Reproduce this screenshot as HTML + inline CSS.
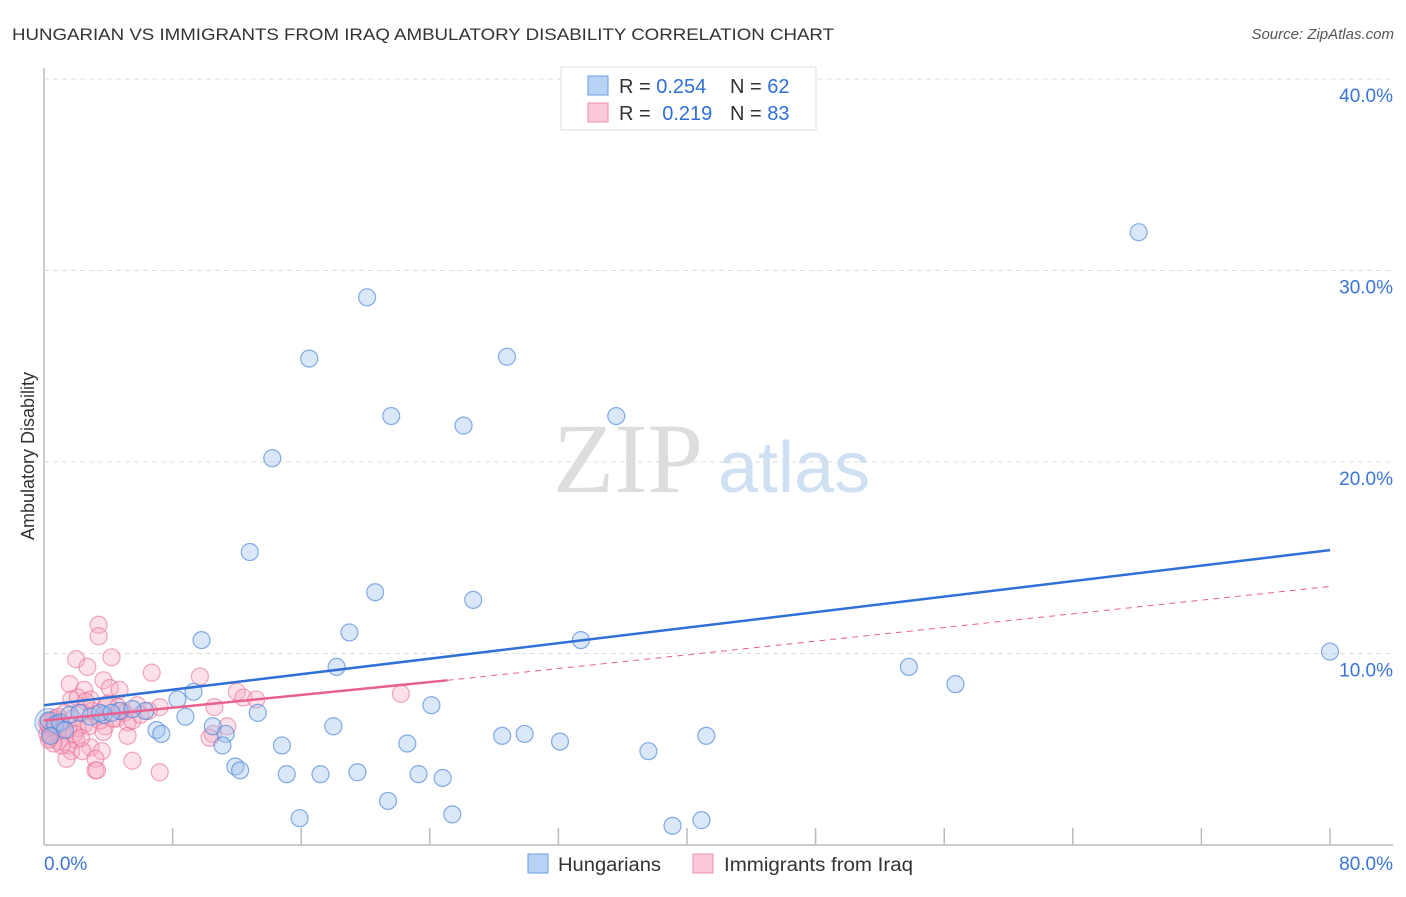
<!DOCTYPE html>
<html><head><meta charset="utf-8"><style>
body{margin:0;background:#fff;font-family:"Liberation Sans",sans-serif;}
</style></head><body>
<svg id="c" width="1406" height="892" xmlns="http://www.w3.org/2000/svg" font-family="Liberation Sans, sans-serif">
<text x="12" y="40" font-size="17" fill="#333" textLength="822" lengthAdjust="spacingAndGlyphs">HUNGARIAN VS IMMIGRANTS FROM IRAQ AMBULATORY DISABILITY CORRELATION CHART</text>
<text x="1394" y="39" font-size="15" fill="#555" font-style="italic" text-anchor="end">Source: ZipAtlas.com</text>
<text x="34" y="456" font-size="18" fill="#333" text-anchor="middle" transform="rotate(-90 34 456)">Ambulatory Disability</text>
<text x="553" y="492" font-size="100" fill="#ddd" style="font-family:'Liberation Serif',serif">ZIP</text>
<text x="718" y="492" font-size="72" fill="#cfe0f3">atlas</text>
<g id="grid"></g><g id="pts"></g><g id="lines"></g>
<g>
<rect x="561" y="67" width="255" height="63" fill="#fff" stroke="#ddd"/>
<rect x="588" y="76" width="20" height="19" fill="#b8d3f5" stroke="#6a9ee0"/>
<rect x="588" y="103" width="20" height="19" fill="#fbc9d8" stroke="#ec8fae"/>
<text x="619" y="93" font-size="20" fill="#333">R = <tspan fill="#2f6fd6">0.254</tspan></text>
<text x="730" y="93" font-size="20" fill="#333">N = <tspan fill="#2f6fd6">62</tspan></text>
<text x="619" y="120" font-size="20" fill="#333">R = <tspan fill="#2f6fd6" dx="6">0.219</tspan></text>
<text x="730" y="120" font-size="20" fill="#333">N = <tspan fill="#2f6fd6">83</tspan></text>
</g>
<g>
<rect x="528" y="854" width="20" height="19" fill="#b8d3f5" stroke="#6a9ee0"/>
<text x="558" y="871" font-size="19" fill="#333" textLength="103" lengthAdjust="spacingAndGlyphs">Hungarians</text>
<rect x="693" y="854" width="20" height="19" fill="#fbc9d8" stroke="#ec8fae"/>
<text x="724" y="871" font-size="19" fill="#333" textLength="189" lengthAdjust="spacingAndGlyphs">Immigrants from Iraq</text>
</g>
</svg>
<script>
const yTicks=[10,20,30,40];
const xLabels=["0.0%","80.0%"];
const blueX=[68.1,20.1,16.5,28.8,21.6,35.6,26.1,14.2,12.8,20.6,26.7,19.0,9.8,33.4,80.0,53.8,56.7,18.2,9.3,8.3,8.8,7.0,7.3,6.3,4.7,5.5,3.7,13.3,24.1,18.0,10.5,11.3,11.1,14.8,22.6,28.5,29.9,32.1,37.6,41.2,11.9,12.2,15.1,17.2,19.5,23.3,24.8,21.4,15.9,25.4,39.1,40.9,0.3,0.7,1.0,1.6,2.2,2.9,1.3,3.5,4.2,0.4];
const blueY=[32.0,28.6,25.4,25.5,22.4,22.4,21.9,20.2,15.3,13.2,12.8,11.1,10.7,10.7,10.1,9.3,8.4,9.3,8.0,7.6,6.7,6.0,5.8,7.0,7.0,7.1,6.8,6.9,7.3,6.2,6.2,5.8,5.2,5.2,5.3,5.7,5.8,5.4,4.9,5.7,4.1,3.9,3.7,3.7,3.8,3.7,3.5,2.3,1.4,1.6,1.0,1.3,6.5,6.3,6.4,6.8,6.9,6.7,6.0,6.9,6.9,5.7];
const pinkX=[3.4,3.4,2.0,4.2,2.7,6.7,9.7,1.6,3.7,2.5,4.1,4.7,12.0,22.2,12.4,13.2,1.7,2.9,2.1,5.8,7.2,10.6,4.0,1.3,3.2,4.5,5.0,0.7,1.1,2.5,3.8,5.2,11.4,10.5,10.3,5.2,0.4,0.9,1.5,2.0,2.9,0.5,0.2,1.7,2.4,3.6,1.4,3.2,5.5,3.2,7.2,3.3,0.3,0.6,0.8,1.0,0.5,0.9,1.2,0.2,0.4,0.7,1.5,1.8,2.1,2.4,2.8,3.0,3.5,4.3,5.5,6.0,6.5,4.8,3.9,2.6,1.9,1.1,0.6,0.3,2.3,3.7,4.6];
const pinkY=[11.5,10.9,9.7,9.8,9.3,9.0,8.8,8.4,8.6,8.1,8.2,8.1,8.0,7.9,7.7,7.6,7.6,7.6,7.7,7.3,7.2,7.2,7.4,6.9,6.8,6.6,6.9,6.6,6.4,6.3,6.2,6.4,6.2,5.8,5.6,5.7,5.6,5.4,5.2,5.5,5.1,6.1,5.8,4.9,4.9,4.9,4.5,4.5,4.4,3.9,3.8,3.9,6.2,6.0,5.9,6.3,6.5,6.7,6.1,6.4,5.9,6.2,6.0,6.6,6.1,6.9,6.2,7.0,6.5,6.6,6.5,6.8,7.0,7.0,7.3,7.5,5.8,5.2,5.3,5.5,5.6,5.9,7.2];
const blueTrend=[7.3,15.4];
const pinkTrend=[6.5,8.6,13.5];
const X=v=>44+v*16.075, Y=v=>845-v*19.15;
const NS="http://www.w3.org/2000/svg";
function mk(p,t,a){const e=document.createElementNS(NS,t);for(const k in a)e.setAttribute(k,a[k]);p.appendChild(e);return e;}
const g=document.getElementById('grid');
const ax=mk(g,'line',{x1:44,y1:68,x2:44,y2:845,stroke:'#bbb','stroke-width':1.5});


const bx=mk(g,'line',{x1:44,y1:845,x2:1393,y2:845,stroke:'#bbb','stroke-width':1.5});


for(let i=1;i<=10;i++){const t=mk(g,'line',{x1:44+i*128.6,y1:828,x2:44+i*128.6,y2:845,stroke:'#bbb','stroke-width':1.5});

}
yTicks.forEach(v=>{const l=mk(g,'line',{x1:44,y1:Y(v),x2:1393,y2:Y(v),stroke:'#ddd','stroke-dasharray':'5,4'});


const t=mk(g,'text',{x:1393,y:Y(v)+23,'font-size':19,fill:'#3a74d6','text-anchor':'end'});t.textContent=v.toFixed(1)+'%';

});
const x0=mk(g,'text',{x:44,y:870,'font-size':19,fill:'#3a74d6'});x0.textContent=xLabels[0];


const x1=mk(g,'text',{x:1393,y:870,'font-size':19,fill:'#3a74d6','text-anchor':'end'});x1.textContent=xLabels[1];


const p=document.getElementById('pts');
const big=mk(p,'circle',{cx:X(0.3),cy:Y(6.4),r:14,fill:'rgba(160,196,240,0.4)',stroke:'rgba(70,130,215,0.5)','stroke-width':1.2});


pinkX.forEach((v,i)=>{const c=mk(p,'circle',{cx:X(v),cy:Y(pinkY[i]),r:8.5,fill:'rgba(246,170,192,0.35)',stroke:'rgba(232,110,150,0.6)','stroke-width':1.2});

});
blueX.forEach((v,i)=>{const c=mk(p,'circle',{cx:X(v),cy:Y(blueY[i]),r:8.5,fill:'rgba(160,196,240,0.4)',stroke:'rgba(70,130,215,0.65)','stroke-width':1.2});

});
const L=document.getElementById('lines');
const bl=mk(L,'line',{x1:X(0),y1:Y(blueTrend[0]),x2:X(80),y2:Y(blueTrend[1]),stroke:'#2f6fd6','stroke-width':2.5});


const pl=mk(L,'line',{x1:X(0),y1:Y(pinkTrend[0]),x2:X(25.1),y2:Y(pinkTrend[1]),stroke:'#e8608f','stroke-width':2.5});


const pd=mk(L,'line',{x1:X(25.1),y1:Y(pinkTrend[1]),x2:X(80),y2:Y(pinkTrend[2]),stroke:'#e8608f','stroke-width':1,'stroke-dasharray':'6,5'});


</script>
</body></html>
